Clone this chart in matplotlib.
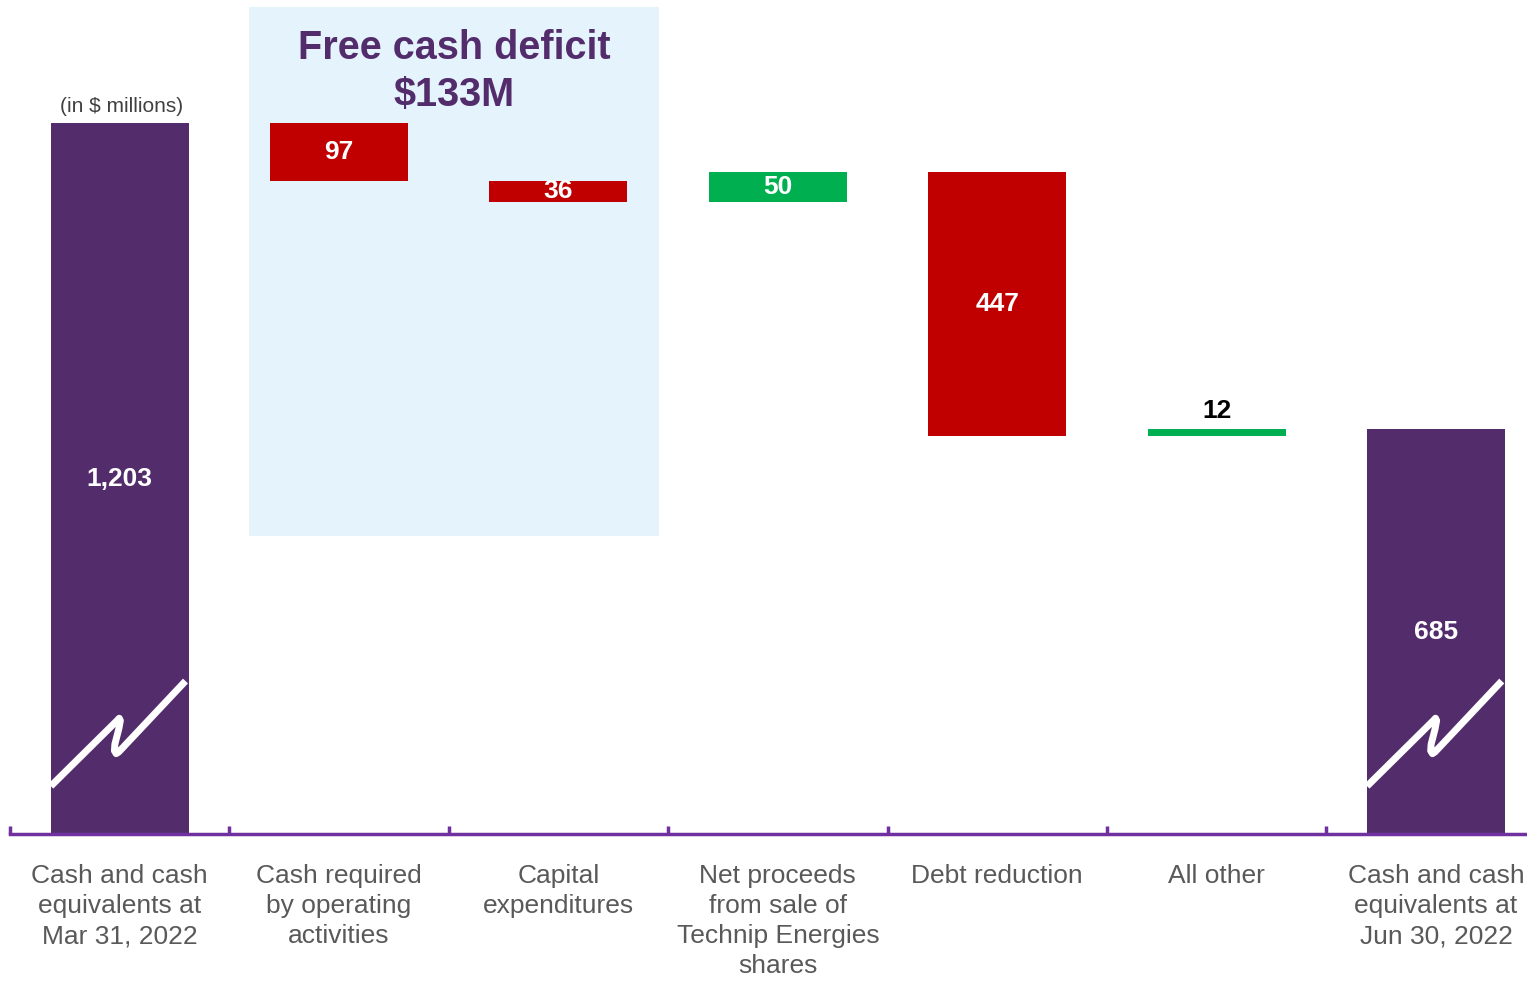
import matplotlib
matplotlib.use("Agg")
import matplotlib.pyplot as plt
from matplotlib.patches import Rectangle

plt.rcParams['font.family'] = ['Liberation Sans', 'DejaVu Sans']

categories = ["Cash and cash\nequivalents at\nMar 31, 2022",
              "Cash required\nby operating\nactivities",
              "Capital\nexpenditures",
              "Net proceeds\nfrom sale of\nTechnip Energies\nshares",
              "Debt reduction",
              "All other",
              "Cash and cash\nequivalents at\nJun 30, 2022"]
start_value = 1203
changes = [-97, -36, 50, -447, 12]
end_value = 685
value_labels = ["1,203", "97", "36", "50", "447", "12", "685"]
box_title = "Free cash deficit\n$133M"

PURPLE = "#532D6B"
RED = "#C00000"
GREEN = "#00B050"
AXIS = "#7030A0"
BOXC = "#E5F4FC"
GRAY = "#595959"

fig = plt.figure(figsize=(15.27, 9.84), dpi=100)
W, H = 1527, 984
ax = fig.add_axes([10 / W, 150 / H, 1517 / W, 834 / H])
ax.set_xlim(-0.497, 6.415)
ax.set_ylim(0, 1412)

bw = 0.629
# background box (free cash deficit)
ax.add_patch(Rectangle((0.588, 504.5), 2.46 - 0.588, 1400 - 504.5,
                       facecolor=BOXC, edgecolor="none", zorder=0))
ax.text(1.524, 1291, box_title, ha="center", va="center", fontsize=28.5,
        fontweight="bold", color=PURPLE, linespacing=1.3, zorder=3)

# bars
ax.bar(0, start_value, width=bw, color=PURPLE, zorder=2)
ax.text(0, start_value / 2, value_labels[0], ha="center", va="center",
        color="white", fontsize=19, fontweight="bold", zorder=4)
running = start_value
for i, d in enumerate(changes, start=1):
    new = running + d
    lo, hi = min(running, new), max(running, new)
    col = GREEN if d > 0 else RED
    ax.bar(i, hi - lo, bottom=lo, width=bw, color=col, zorder=2)
    if i == 5:
        ax.text(i, hi + 11, value_labels[i], ha="center", va="bottom",
                color="black", fontsize=19, fontweight="bold", zorder=4)
    else:
        ax.text(i, (lo + hi) / 2, value_labels[i], ha="center", va="center",
                color="white", fontsize=19, fontweight="bold", zorder=4)
    running = new
ax.bar(6, end_value, width=bw, color=PURPLE, zorder=2)
ax.text(6, end_value / 2, value_labels[6], ha="center", va="center",
        color="white", fontsize=19, fontweight="bold", zorder=4)

# break marks
for c in (0, 6):
    xs = [-0.314, -0.012, -0.002, 0.003, -0.004, -0.022, -0.024, -0.016, -0.004, 0.30]
    ys = [81, 192, 196, 192, 178, 152, 141, 136, 139, 259]
    ax.plot([c + x for x in xs], ys, color="white", lw=5,
            solid_capstyle="butt", solid_joinstyle="round", zorder=3)

# axis
for s in ("top", "right", "left"):
    ax.spines[s].set_visible(False)
ax.spines["bottom"].set_color(AXIS)
ax.spines["bottom"].set_linewidth(2.5)
ax.set_yticks([])
ax.set_xticks([-0.5 + k for k in range(7)])
ax.set_xticklabels([])
ax.tick_params(axis="x", direction="in", length=6, width=2.5, color=AXIS)

for i, lab in enumerate(categories):
    ax.text(i, -50, lab, ha="center", va="top", fontsize=19, color=GRAY,
            linespacing=1.33, clip_on=False)

ax.text(0.01, 1232, "(in $ millions)", ha="center", va="center",
        fontsize=15, color="#404040")

fig.savefig("out.png", dpi=100)
